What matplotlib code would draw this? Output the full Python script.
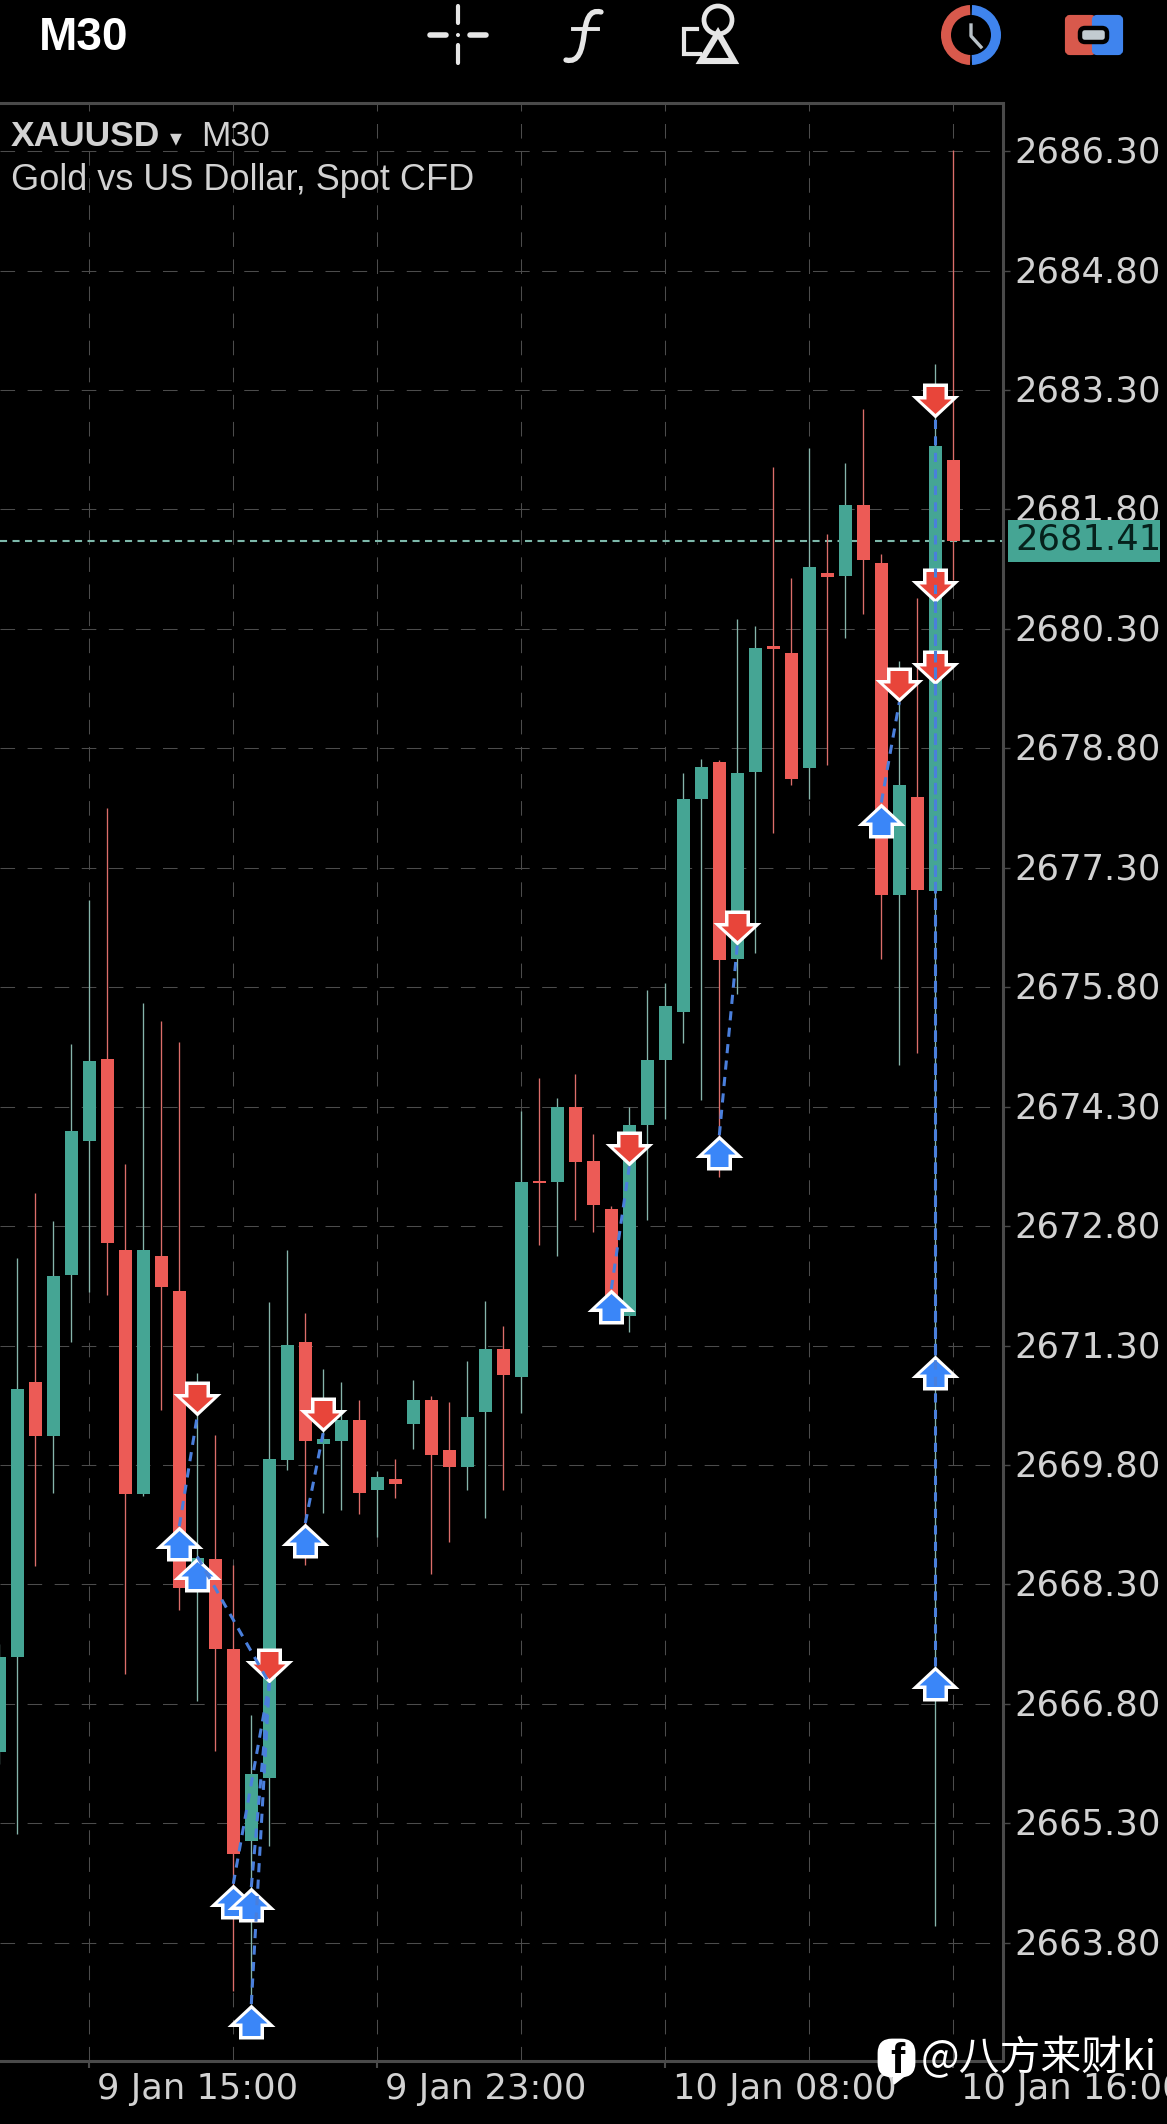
#Plot: XAUUSD M30 candles with trade arrows, phone app screenshot style
import matplotlib
matplotlib.use("Agg")
import matplotlib.pyplot as plt
from matplotlib.path import Path
from matplotlib.patches import PathPatch, Wedge, FancyBboxPatch, Polygon, Circle, Rectangle
from matplotlib.transforms import ScaledTranslation

opens = [2666.20, 2667.39, 2670.84, 2670.16, 2672.19, 2673.87, 2674.90, 2672.50, 2669.43, 2672.43,
         2671.99, 2668.30, 2668.62, 2667.49, 2665.08, 2665.87, 2669.86, 2671.34, 2670.07, 2670.10,
         2670.36, 2669.49, 2669.63, 2670.32, 2670.62, 2669.99, 2669.78, 2670.47, 2671.26, 2670.91,
         2673.37, 2673.36, 2674.30, 2673.62, 2673.01, 2671.67, 2674.07, 2674.89, 2675.49, 2678.17,
         2678.63, 2676.15, 2678.50, 2680.09, 2680.00, 2678.55, 2681.00, 2680.96, 2681.86, 2681.13,
         2676.96, 2678.19, 2677.01, 2682.42]
closes = [2667.39, 2670.76, 2670.17, 2672.17, 2673.99, 2674.88, 2672.59, 2669.43, 2672.50, 2672.04,
          2668.26, 2668.63, 2667.49, 2664.91, 2665.92, 2669.88, 2671.31, 2670.10, 2670.13, 2670.36,
          2669.45, 2669.65, 2669.56, 2670.62, 2669.92, 2669.78, 2670.40, 2671.26, 2670.93, 2673.36,
          2673.34, 2674.30, 2673.61, 2673.06, 2671.88, 2674.07, 2674.89, 2675.57, 2678.17, 2678.57,
          2676.14, 2678.49, 2680.06, 2680.05, 2678.42, 2681.08, 2680.95, 2681.86, 2681.17, 2676.96,
          2678.34, 2677.02, 2682.60, 2681.40]
highs = [2667.55, 2672.40, 2673.21, 2672.86, 2675.09, 2676.90, 2678.05, 2673.58, 2675.60, 2675.37,
         2675.11, 2670.95, 2670.18, 2668.54, 2666.66, 2671.85, 2672.50, 2671.71, 2671.01, 2670.84,
         2670.62, 2669.72, 2669.88, 2670.87, 2670.67, 2670.59, 2671.11, 2671.86, 2671.55, 2674.25,
         2674.66, 2674.41, 2674.71, 2673.96, 2673.05, 2674.30, 2675.77, 2675.85, 2678.49, 2678.67,
         2678.65, 2680.42, 2680.34, 2682.33, 2680.94, 2682.57, 2681.49, 2682.39, 2683.06, 2681.24,
         2679.90, 2680.69, 2683.63, 2686.32]
lows = [2666.05, 2665.17, 2668.53, 2669.45, 2671.34, 2671.97, 2671.94, 2667.18, 2669.41, 2670.49,
        2667.98, 2666.83, 2666.21, 2663.20, 2663.03, 2665.02, 2669.74, 2668.54, 2669.20, 2669.24,
        2669.19, 2668.90, 2669.39, 2670.00, 2668.43, 2668.83, 2669.48, 2669.13, 2669.49, 2670.45,
        2672.56, 2672.43, 2672.88, 2672.73, 2671.75, 2671.47, 2672.88, 2674.14, 2675.10, 2674.39,
        2673.42, 2675.71, 2676.23, 2677.74, 2678.34, 2678.17, 2678.59, 2680.18, 2680.49, 2676.16,
        2674.82, 2674.97, 2664.01, 2680.91]

price_ticks = [2686.30, 2684.80, 2683.30, 2681.80, 2680.30, 2678.80, 2677.30, 2675.80,
               2674.30, 2672.80, 2671.30, 2669.80, 2668.30, 2666.80, 2665.30, 2663.80]
time_grid = [5, 13, 21, 29, 37, 45, 53]
time_ticks = [5, 21, 37, 53]
time_labels = ["9 Jan 15:00", "9 Jan 23:00", "10 Jan 08:00", "10 Jan 16:00"]
last_price = 2681.41

buy_x = [10, 11, 13, 14, 14, 17, 34, 40, 49, 52, 52]
buy_y = [2669.03, 2668.65, 2664.54, 2664.50, 2663.03, 2669.07, 2672.01, 2673.94, 2678.12, 2671.18, 2667.27]
sell_x = [11, 15, 18, 35, 41, 50, 52, 52, 52]
sell_y = [2670.42, 2667.06, 2670.21, 2673.55, 2676.33, 2679.38, 2682.95, 2680.63, 2679.60]

# each link: buy x, buy price, sell x, sell price
links_x0 = [10, 11, 13, 14, 14, 17, 34, 40, 49, 52, 52]
links_y0 = [2669.03, 2668.65, 2664.54, 2664.50, 2663.03, 2669.07, 2672.01, 2673.94, 2678.12, 2667.27, 2671.18]
links_x1 = [11, 15, 15, 15, 15, 18, 35, 41, 50, 52, 52]
links_y1 = [2670.42, 2667.06, 2667.06, 2667.06, 2667.06, 2670.21, 2673.55, 2676.33, 2679.38, 2682.95, 2680.63]

GREEN = "#45a594"
RED = "#ec5b56"
GREEN_WICK = "#86b5ab"
RED_WICK = "#dc6e6a"
GRID = "#4c4c4c"
TEXT = "#d2d2d2"

W, H = 1167, 2124
fig = plt.figure(figsize=(W / 100, H / 100), dpi=100, facecolor="black")
ax = fig.add_axes([0, 1 - 2061 / H, 1003 / W, (2061 - 103) / H], facecolor="black")

ax.set_xlim(0.039, 55.76)
ax.set_ylim(2662.315, 2686.905)

for p in price_ticks:
    ax.axhline(p, color=GRID, lw=0.75, dashes=(14, 12), zorder=1)
for t in time_grid:
    ax.axvline(t, color=GRID, lw=0.75, dashes=(14, 12), zorder=1)
ax.axhline(last_price, color="#7db8aa", lw=1.5, dashes=(3.4, 2.6), zorder=1.5)

# candles
xs = list(range(len(opens)))
up = [c > o for o, c in zip(opens, closes)]
wick_cols = [GREEN_WICK if u else RED_WICK for u in up]
body_cols = [GREEN if u else RED for u in up]
ax.vlines(xs, lows, highs, colors=wick_cols, linewidth=0.95, zorder=2)
bottoms = [min(o, c) for o, c in zip(opens, closes)]
heights = [abs(c - o) for o, c in zip(opens, closes)]
ax.bar(xs, heights, bottom=bottoms, width=0.72, color=body_cols, linewidth=0, zorder=3)


def marker_size(verts):
    # matplotlib rescales a custom marker by its largest coordinate
    biggest = max(max(abs(a), abs(b)) for a, b in verts)
    return 2 * biggest * 0.72


outer_up = [(0, 0), (24, -22.5), (12.5, -22.5), (12.5, -35), (-12.5, -35), (-12.5, -22.5), (-24, -22.5), (0, 0)]
inner_up = [(0, -4.5), (16, -19), (9, -19), (9, -31.5), (-9, -31.5), (-9, -19), (-16, -19), (0, -4.5)]
outer_down = [(a, -b) for a, b in outer_up]
inner_down = [(a, -b) for a, b in inner_up]

for px, py in zip(buy_x, buy_y):
    ax.plot([px], [py], marker=Path(outer_up), ms=marker_size(outer_up), mfc="white", mec="none", ls="none", zorder=5)
    ax.plot([px], [py], marker=Path(inner_up), ms=marker_size(inner_up), mfc="#3a86f8", mec="none", ls="none", zorder=5)
for px, py in zip(sell_x, sell_y):
    ax.plot([px], [py], marker=Path(outer_down), ms=marker_size(outer_down), mfc="white", mec="none", ls="none", zorder=5)
    ax.plot([px], [py], marker=Path(inner_down), ms=marker_size(inner_down), mfc="#e8453a", mec="none", ls="none", zorder=5)

for x0, y0, x1, y1 in zip(links_x0, links_y0, links_x1, links_y1):
    ax.plot([x0, x1], [y0, y1], color="#4a7fdc", lw=2.2, dashes=(3, 2.4), zorder=6)

# axes frame and ticks
ax.spines["left"].set_visible(False)
for side in ["top", "right", "bottom"]:
    ax.spines[side].set_color("#4a4a4a")
    ax.spines[side].set_linewidth(2.2)
ax.yaxis.tick_right()
ax.set_yticks(price_ticks)
ax.set_yticklabels(["%.2f" % p for p in price_ticks])
ax.set_xticks(time_ticks)
ax.set_xticklabels(time_labels, ha="left")
ax.tick_params(axis="y", length=5, width=1, color="#4a4a4a", labelcolor=TEXT, labelsize=25.5, pad=3)
ax.tick_params(axis="x", length=5, width=1.5, color="#4a4a4a", labelcolor=TEXT, labelsize=25.4, pad=3)
for lab in ax.get_xticklabels():
    lab.set_transform(lab.get_transform() + ScaledTranslation(8 / 100, 0, fig.dpi_scale_trans))
for lab in ax.get_yticklabels():
    lab.set_transform(lab.get_transform() + ScaledTranslation(0, 2 / 100, fig.dpi_scale_trans))

# overlay in pixel coordinates for the app chrome
ui = fig.add_axes([0, 0, 1, 1], facecolor="none", zorder=10)
ui.set_xlim(0, W)
ui.set_ylim(H, 0)
ui.axis("off")

ui.add_patch(Rectangle((1008, 520), 152, 42, fc=GREEN, ec="none"))
ui.text(1015, 539, "2681.41", color="#06211c", fontsize=25.5, va="center", ha="left")

ui.text(39, 38, "M30", color="white", fontsize=33, fontweight="bold", va="center", ha="left", family="Liberation Sans")
ui.text(11, 136, "XAUUSD", color=TEXT, fontsize=25.5, fontweight="bold", va="center", ha="left", family="Liberation Sans")
ui.text(170, 138, "\u25be", color=TEXT, fontsize=17, va="center", ha="left", family="DejaVu Sans")
ui.text(201, 136, "M30", color=TEXT, fontsize=25.5, va="center", ha="left", family="Liberation Sans")
ui.text(11, 180, "Gold vs US Dollar, Spot CFD", color=TEXT, fontsize=26, va="center", ha="left", family="Liberation Sans")

# crosshair
ICON = "#e6e6e6"
ui.plot([458, 458], [6, 23], color=ICON, lw=3, solid_capstyle="round")
ui.plot([458, 458], [45, 63], color=ICON, lw=3, solid_capstyle="round")
ui.plot([430, 446], [35, 35], color=ICON, lw=4, solid_capstyle="round")
ui.plot([470, 486], [35, 35], color=ICON, lw=4, solid_capstyle="round")
ui.add_patch(Circle((458, 35), 2, fc=ICON, ec="none"))

# function icon
f_curve = Path([(601, 12), (589, 9), (586, 20), (584, 35), (582, 50), (579, 63), (566, 60)],
               [Path.MOVETO, Path.CURVE4, Path.CURVE4, Path.CURVE4, Path.CURVE4, Path.CURVE4, Path.CURVE4])
ui.add_patch(PathPatch(f_curve, fc="none", ec=ICON, lw=3.8, capstyle="round"))
ui.plot([573, 598], [29, 29], color=ICON, lw=2.8)

# objects icon
ui.add_patch(Circle((718, 20), 14, fc="none", ec=ICON, lw=3.4))
ui.add_patch(Polygon([(718, 33), (734, 61), (701, 61)], closed=True, fc="black", ec=ICON, lw=4.4))
ui.plot([697, 684, 684, 700], [29, 29, 54, 54], color=ICON, lw=3, solid_joinstyle="miter")

# clock icon
ui.add_patch(Wedge((971, 35), 30, 92, 268, width=10, fc="#d8594c", ec="none"))
ui.add_patch(Wedge((971, 35), 30, -88, 88, width=10, fc="#3f84ee", ec="none"))
ui.plot([971, 971, 981], [25, 36, 47], color="#b9c2c8", lw=2.4)

# toggle icon
ui.add_patch(FancyBboxPatch((1067, 17), 27, 36, boxstyle="round,pad=0,rounding_size=3", fc="#d8594c", ec="#d8594c", lw=3))
ui.add_patch(FancyBboxPatch((1094, 17), 27, 36, boxstyle="round,pad=0,rounding_size=3", fc="#3f84ee", ec="#3f84ee", lw=3))
ui.add_patch(FancyBboxPatch((1080, 28), 27, 14, boxstyle="round,pad=0,rounding_size=5", fc="#c2cbd0", ec="black", lw=3.2))

# watermark
ui.add_patch(FancyBboxPatch((879, 2040), 35, 36, boxstyle="round,pad=0,rounding_size=13", fc="white", ec="white", lw=2))
ui.add_patch(Polygon([(893, 2074), (912, 2070), (894, 2084)], closed=True, fc="white", ec="white", lw=1))
ui.text(897, 2062, "f", color="black", fontsize=31, fontweight="bold", va="center", ha="center", family="Liberation Sans")
ui.text(921, 2058, "@八方来财ki", color="white", fontsize=29.4, va="center", ha="left",
        family=["Noto Sans CJK SC", "DejaVu Sans"])

fig.savefig("out.png", dpi=100, facecolor="black")
